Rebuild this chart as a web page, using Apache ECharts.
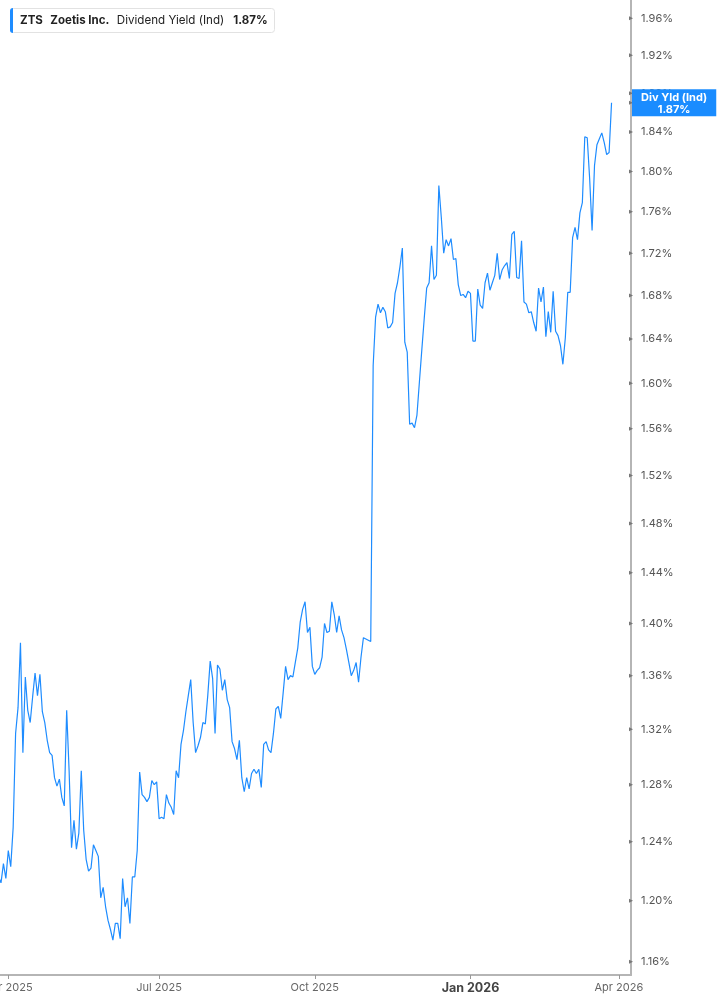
<!DOCTYPE html>
<html>
<head>
<meta charset="utf-8">
<script src="https://cdn.jsdelivr.net/npm/echarts@6/dist/echarts.min.js"></script>
<style>
html,body{margin:0;padding:0;background:#fff;}
#chart{width:717px;height:1005px;}
</style>
</head>
<body>
<div id="chart"></div>
<script>
// ---- data ----
const startDate = '2025-03-26';
const categoryCount = 261;
const marketHolidays = ['2025-04-18','2025-05-26','2025-06-19','2025-07-04','2025-09-01','2025-11-27','2025-12-25','2026-01-01','2026-01-19','2026-02-16','2026-04-03'];
const xTickDates = ['2025-04-01','2025-07-01','2025-10-01','2026-01-02','2026-04-01'];
const xTickLabels = ['Apr 2025','Jul 2025','Oct 2025','Jan 2026','Apr 2026'];
const yTickValues = [1.16,1.20,1.24,1.28,1.32,1.36,1.40,1.44,1.48,1.52,1.56,1.60,1.64,1.68,1.72,1.76,1.80,1.84,1.88,1.92,1.96];
const currentValue = 1.87;
const seriesName = 'Div Yld (Ind)';
const yieldValues = [
1.216,1.212,1.225,1.215,1.234,1.223,1.250,1.317,1.336,1.385,
1.303,1.359,1.334,1.325,1.344,1.362,1.345,1.361,1.333,1.325,
1.312,1.303,1.301,1.285,1.279,1.284,1.271,1.265,1.334,1.290,
1.236,1.255,1.235,1.246,1.290,1.248,1.228,1.220,1.222,1.238,
1.234,1.230,1.202,1.209,1.196,1.187,1.181,1.174,1.185,1.185,
1.175,1.215,1.196,1.202,1.185,1.216,1.216,1.234,1.289,1.273,
1.271,1.268,1.271,1.283,1.280,1.282,1.256,1.257,1.256,1.273,
1.267,1.264,1.259,1.290,1.285,1.309,1.319,1.333,1.345,1.357,
1.325,1.303,1.308,1.314,1.325,1.324,1.345,1.371,1.358,1.317,
1.368,1.365,1.349,1.357,1.342,1.336,1.311,1.306,1.298,1.312,
1.285,1.275,1.285,1.277,1.288,1.291,1.288,1.291,1.278,1.309,
1.311,1.305,1.303,1.317,1.335,1.337,1.328,1.347,1.367,1.357,
1.360,1.359,1.370,1.381,1.401,1.411,1.417,1.393,1.397,1.367,
1.361,1.364,1.366,1.374,1.400,1.393,1.394,1.417,1.407,1.393,
1.406,1.395,1.389,1.380,1.370,1.360,1.364,1.370,1.355,1.374,
1.389,1.388,1.387,1.386,1.616,1.660,1.672,1.664,1.669,1.665,
1.650,1.651,1.655,1.682,1.692,1.707,1.725,1.637,1.628,1.564,
1.565,1.561,1.572,1.601,1.630,1.659,1.687,1.692,1.727,1.695,
1.699,1.786,1.755,1.720,1.733,1.727,1.734,1.714,1.715,1.690,
1.680,1.681,1.678,1.684,1.682,1.638,1.638,1.686,1.671,1.668,
1.692,1.701,1.685,1.692,1.699,1.720,1.695,1.704,1.708,1.711,
1.696,1.738,1.741,1.697,1.696,1.732,1.674,1.672,1.664,1.665,
1.655,1.647,1.687,1.674,1.688,1.642,1.665,1.646,1.684,1.647,
1.643,1.634,1.617,1.641,1.683,1.683,1.735,1.745,1.733,1.759,
1.769,1.835,1.834,1.793,1.742,1.806,1.827,1.833,1.839,1.829,
1.817,1.819,1.870
];

// ---- trading-day categories ----
function tradingDays(start, count) {
  const out = [];
  const d = new Date(start + 'T00:00:00Z');
  while (out.length < count) {
    const wd = d.getUTCDay();
    const s = d.toISOString().slice(0, 10);
    if (wd !== 0 && wd !== 6 && marketHolidays.indexOf(s) < 0) out.push(s);
    d.setUTCDate(d.getUTCDate() + 1);
  }
  return out;
}
const categories = tradingDays(startDate, categoryCount);

const LINE_COLOR = '#1e8cff';
const FONT = 'Inter';
const isTick = (index, value) => xTickDates.indexOf(value) >= 0;

const chart = echarts.init(document.getElementById('chart'), null, {renderer: 'canvas'});
chart.setOption({
  backgroundColor: '#ffffff',
  animation: false,
  textStyle: {fontFamily: FONT},
  title: {
    left: 10,
    top: 8,
    padding: [0, 7, 0, 0],
    backgroundColor: '#ffffff',
    borderColor: '#e2e2e2',
    borderWidth: 1,
    borderRadius: 3,
    text: '{bar|}{sp0|}{b|ZTS}{sp|}{b|Zoetis Inc.}{sp|}{n|Dividend Yield (Ind)}{sp2|}{b|' + currentValue.toFixed(2) + '%}',
    textStyle: {
      rich: {
        bar: {width: 3, height: 25, backgroundColor: LINE_COLOR, borderRadius: [3, 0, 0, 3], verticalAlign: 'middle'},
        sp0: {width: 7, height: 25},
        sp: {width: 7.5, height: 25},
        sp2: {width: 9, height: 25},
        b: {fontFamily: FONT, fontSize: 11.5, fontWeight: 'bold', color: '#222', verticalAlign: 'middle'},
        n: {fontFamily: FONT, fontSize: 11.6, fontWeight: 'normal', color: '#222', verticalAlign: 'middle'}
      }
    }
  },
  grid: {left: -1.43, right: 86, top: 0, bottom: 30, containLabel: false, outerBoundsMode: 'none'},
  xAxis: {
    type: 'category',
    data: categories,
    boundaryGap: false,
    axisLine: {show: true, lineStyle: {color: '#b5b5b5', width: 2}},
    axisTick: {show: true, interval: isTick, length: 4, lineStyle: {color: '#999', width: 1}},
    axisLabel: {
      interval: isTick,
      margin: 7,
      color: '#666',
      fontSize: 11,
      fontFamily: FONT,
      formatter: function (value) {
        const i = xTickDates.indexOf(value);
        if (i < 0) return '';
        const t = xTickLabels[i];
        return t.indexOf('Jan') === 0 ? '{j|' + t + '}' : t;
      },
      rich: {j: {fontFamily: FONT, fontSize: 12.5, fontWeight: 'bold', color: '#444'}}
    },
    splitLine: {show: false}
  },
  yAxis: {
    type: 'log',
    logBase: 10,
    position: 'right',
    min: 1.1515,
    max: 1.98,
    axisLine: {show: true, lineStyle: {color: '#b5b5b5', width: 2}},
    axisTick: {show: false},
    axisLabel: {show: false},
    splitLine: {show: false}
  },
  series: [{
    name: seriesName,
    type: 'line',
    data: yieldValues,
    showSymbol: false,
    symbol: 'none',
    lineStyle: {color: LINE_COLOR, width: 1.2},
    itemStyle: {color: LINE_COLOR},
    markLine: {
      silent: true,
      animation: false,
      symbol: ['none', 'triangle'],
      symbolSize: 4,
      lineStyle: {width: 0, color: '#777', type: 'solid'},
      label: {position: 'end', distance: 10, color: '#555', fontSize: 11, fontFamily: FONT},
      data: yTickValues.map(v => ({yAxis: v, label: {formatter: v.toFixed(2) + '%'}})).concat([{
        yAxis: currentValue,
        symbol: 'none',
        label: {
          position: 'end',
          distance: 1,
          backgroundColor: '#1a8cff',
          padding: [2, 9, 1, 9],
          formatter: '{a|' + seriesName + '}\n{a|' + currentValue.toFixed(2) + '%}',
          rich: {a: {color: '#fff', fontWeight: 'bold', fontSize: 11, lineHeight: 12, align: 'center', fontFamily: FONT}}
        }
      }])
    }
  }]
});
</script>
</body>
</html>
